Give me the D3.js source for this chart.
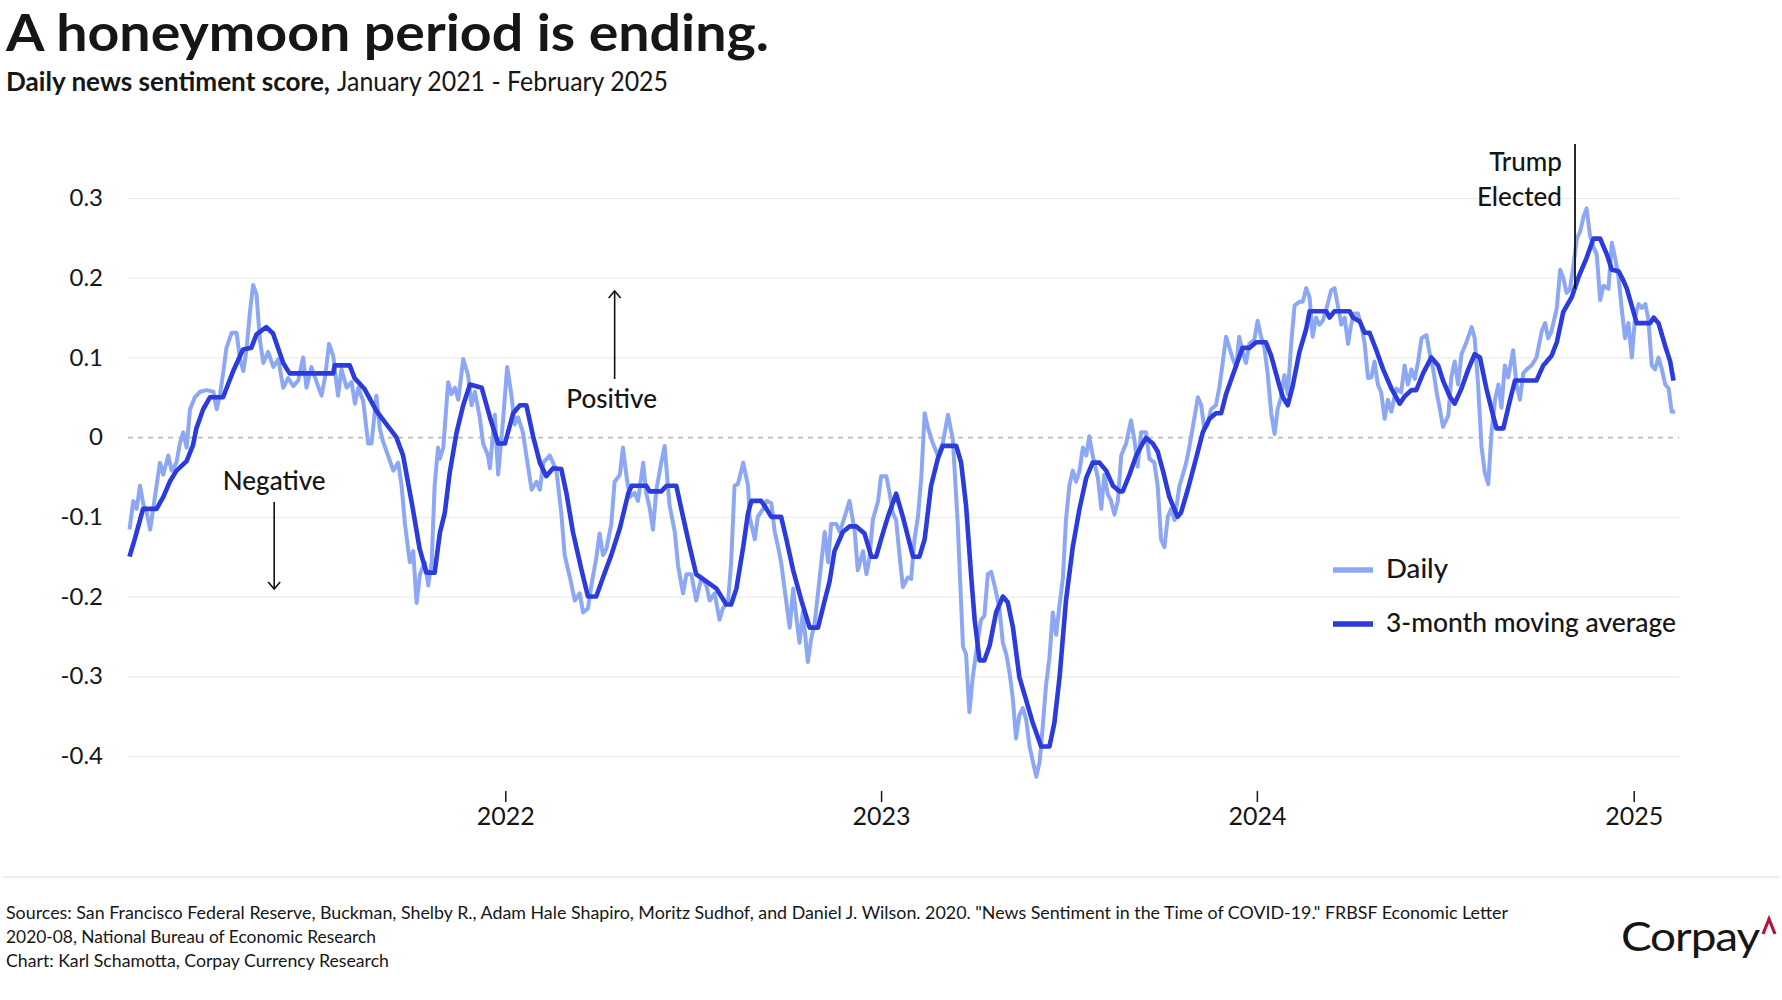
<!DOCTYPE html>
<html>
<head>
<meta charset="utf-8">
<script src="https://cdn.jsdelivr.net/npm/d3@7"></script>
<style>
  body { margin: 0; background: #fff; }
  text { font-family: Lato, "Noto Sans", sans-serif; fill: #161616; }
</style>
</head>
<body>
<div id="chart"></div>
<script>
// values; time as decimal year
const dailySeries = [
  [2021.000,-0.116],[2021.010,-0.08],[2021.019,-0.09],[2021.028,-0.061],[2021.037,-0.085],[2021.046,-0.095],
  [2021.055,-0.116],[2021.063,-0.09],[2021.072,-0.061],[2021.081,-0.032],[2021.090,-0.047],[2021.103,-0.023],
  [2021.112,-0.042],[2021.125,-0.032],[2021.134,-0.008],[2021.143,0.006],[2021.152,-0.013],[2021.161,0.035],
  [2021.174,0.05],[2021.188,0.057],[2021.205,0.059],[2021.223,0.057],[2021.232,0.035],[2021.241,0.054],
  [2021.250,0.083],[2021.258,0.112],[2021.272,0.131],[2021.285,0.131],[2021.294,0.098],[2021.303,0.083],
  [2021.312,0.112],[2021.320,0.155],[2021.329,0.191],[2021.338,0.179],[2021.347,0.122],[2021.356,0.093],
  [2021.369,0.107],[2021.383,0.088],[2021.396,0.098],[2021.409,0.062],[2021.422,0.074],[2021.436,0.064],
  [2021.449,0.071],[2021.462,0.1],[2021.471,0.062],[2021.484,0.088],[2021.498,0.069],[2021.511,0.052],
  [2021.520,0.074],[2021.531,0.117],[2021.542,0.102],[2021.555,0.052],[2021.564,0.085],[2021.578,0.062],
  [2021.591,0.069],[2021.600,0.042],[2021.609,0.062],[2021.622,0.045],[2021.635,-0.008],[2021.644,-0.008],
  [2021.657,0.052],[2021.666,0.011],[2021.675,-0.006],[2021.688,-0.023],[2021.702,-0.042],[2021.715,-0.032],
  [2021.724,-0.061],[2021.733,-0.109],[2021.746,-0.157],[2021.755,-0.143],[2021.764,-0.208],[2021.773,-0.172],
  [2021.786,-0.157],[2021.795,-0.186],[2021.804,-0.157],[2021.812,-0.061],[2021.821,-0.013],[2021.826,-0.027],
  [2021.835,-0.013],[2021.848,0.069],[2021.857,0.054],[2021.866,0.062],[2021.875,0.047],[2021.888,0.098],
  [2021.901,0.078],[2021.910,0.04],[2021.919,0.057],[2021.932,0.025],[2021.941,-0.008],[2021.954,-0.023],
  [2021.959,-0.039],[2021.972,0.028],[2021.981,-0.047],[2021.994,0.021],[2022.005,0.088],[2022.016,0.054],
  [2022.025,0.016],[2022.034,0.025],[2022.047,0.006],[2022.056,-0.023],[2022.070,-0.066],[2022.083,-0.056],
  [2022.092,-0.066],[2022.101,-0.032],[2022.118,-0.023],[2022.127,-0.032],[2022.136,-0.042],[2022.149,-0.095],
  [2022.158,-0.148],[2022.172,-0.176],[2022.185,-0.205],[2022.198,-0.196],[2022.207,-0.22],[2022.220,-0.215],
  [2022.229,-0.186],[2022.242,-0.152],[2022.251,-0.121],[2022.260,-0.148],[2022.269,-0.14],[2022.282,-0.109],
  [2022.291,-0.056],[2022.305,-0.047],[2022.313,-0.013],[2022.322,-0.047],[2022.331,-0.075],[2022.344,-0.07],
  [2022.353,-0.08],[2022.367,-0.032],[2022.375,-0.07],[2022.384,-0.088],[2022.393,-0.116],[2022.402,-0.066],
  [2022.415,-0.032],[2022.424,-0.011],[2022.437,-0.085],[2022.451,-0.119],[2022.460,-0.162],[2022.473,-0.196],
  [2022.482,-0.172],[2022.495,-0.172],[2022.508,-0.205],[2022.522,-0.176],[2022.535,-0.186],[2022.544,-0.205],
  [2022.557,-0.196],[2022.570,-0.229],[2022.579,-0.215],[2022.593,-0.205],[2022.601,-0.157],[2022.610,-0.061],
  [2022.619,-0.059],[2022.633,-0.032],[2022.646,-0.061],[2022.650,-0.1],[2022.664,-0.128],[2022.672,-0.1],
  [2022.686,-0.09],[2022.695,-0.08],[2022.708,-0.083],[2022.717,-0.119],[2022.726,-0.138],[2022.734,-0.157],
  [2022.743,-0.19],[2022.757,-0.239],[2022.766,-0.19],[2022.774,-0.224],[2022.783,-0.258],[2022.792,-0.219],
  [2022.805,-0.282],[2022.814,-0.253],[2022.823,-0.234],[2022.832,-0.196],[2022.841,-0.157],[2022.850,-0.119],
  [2022.859,-0.157],[2022.867,-0.109],[2022.881,-0.109],[2022.890,-0.119],[2022.903,-0.1],[2022.916,-0.08],
  [2022.930,-0.119],[2022.938,-0.167],[2022.952,-0.143],[2022.961,-0.172],[2022.969,-0.152],[2022.978,-0.104],
  [2022.992,-0.08],[2023.000,-0.049],[2023.014,-0.049],[2023.023,-0.071],[2023.031,-0.095],[2023.040,-0.104],
  [2023.049,-0.148],[2023.058,-0.188],[2023.071,-0.176],[2023.080,-0.178],[2023.089,-0.128],[2023.098,-0.1],
  [2023.107,-0.051],[2023.116,0.03],[2023.125,0.011],[2023.138,-0.008],[2023.151,-0.023],[2023.164,-0.008],
  [2023.178,0.028],[2023.191,-0.003],[2023.204,-0.109],[2023.218,-0.263],[2023.226,-0.272],[2023.235,-0.345],
  [2023.244,-0.301],[2023.258,-0.253],[2023.266,-0.229],[2023.275,-0.224],[2023.284,-0.172],[2023.293,-0.169],
  [2023.302,-0.186],[2023.315,-0.215],[2023.324,-0.258],[2023.333,-0.272],[2023.342,-0.296],[2023.351,-0.33],
  [2023.359,-0.378],[2023.368,-0.349],[2023.377,-0.34],[2023.386,-0.354],[2023.395,-0.388],[2023.404,-0.407],
  [2023.413,-0.426],[2023.422,-0.407],[2023.430,-0.364],[2023.439,-0.311],[2023.448,-0.277],[2023.457,-0.22],
  [2023.466,-0.248],[2023.475,-0.21],[2023.484,-0.176],[2023.492,-0.104],[2023.501,-0.061],[2023.510,-0.042],
  [2023.519,-0.056],[2023.528,-0.042],[2023.537,-0.013],[2023.546,-0.023],[2023.554,0.001],[2023.563,-0.023],
  [2023.577,-0.051],[2023.586,-0.09],[2023.594,-0.047],[2023.603,-0.071],[2023.612,-0.08],[2023.621,-0.097],
  [2023.630,-0.08],[2023.639,-0.023],[2023.652,-0.008],[2023.665,0.021],[2023.674,-0.003],[2023.683,-0.037],
  [2023.692,0.006],[2023.705,0.006],[2023.714,-0.027],[2023.727,-0.032],[2023.736,-0.061],[2023.745,-0.128],
  [2023.754,-0.138],[2023.763,-0.1],[2023.772,-0.09],[2023.781,-0.104],[2023.794,-0.061],[2023.803,-0.047],
  [2023.812,-0.032],[2023.820,-0.013],[2023.829,0.011],[2023.843,0.05],[2023.852,0.04],[2023.860,0.011],
  [2023.869,0.016],[2023.878,0.035],[2023.891,0.04],[2023.900,0.062],[2023.909,0.093],[2023.918,0.126],
  [2023.927,0.112],[2023.936,0.098],[2023.945,0.088],[2023.953,0.126],[2023.962,0.107],[2023.971,0.093],
  [2023.980,0.117],[2023.993,0.122],[2024.002,0.146],[2024.011,0.126],[2024.020,0.112],[2024.029,0.078],
  [2024.038,0.03],[2024.047,0.004],[2024.055,0.035],[2024.064,0.05],[2024.073,0.078],[2024.082,0.054],
  [2024.091,0.117],[2024.100,0.165],[2024.113,0.17],[2024.122,0.17],[2024.131,0.187],[2024.140,0.175],
  [2024.148,0.126],[2024.157,0.15],[2024.166,0.141],[2024.175,0.146],[2024.184,0.16],[2024.197,0.184],
  [2024.206,0.187],[2024.215,0.165],[2024.224,0.141],[2024.233,0.15],[2024.242,0.117],[2024.250,0.141],
  [2024.259,0.155],[2024.268,0.155],[2024.277,0.141],[2024.286,0.117],[2024.295,0.074],[2024.304,0.075],
  [2024.312,0.095],[2024.321,0.066],[2024.330,0.056],[2024.339,0.023],[2024.348,0.047],[2024.357,0.032],
  [2024.370,0.061],[2024.383,0.056],[2024.392,0.09],[2024.401,0.066],[2024.410,0.085],[2024.419,0.073],
  [2024.428,0.095],[2024.437,0.124],[2024.450,0.128],[2024.459,0.104],[2024.468,0.085],[2024.477,0.056],
  [2024.485,0.037],[2024.494,0.013],[2024.508,0.027],[2024.516,0.075],[2024.525,0.095],[2024.534,0.066],
  [2024.543,0.104],[2024.556,0.119],[2024.570,0.138],[2024.578,0.124],[2024.587,0.066],[2024.596,-0.011],
  [2024.605,-0.045],[2024.614,-0.059],[2024.623,0.008],[2024.632,0.047],[2024.641,0.066],[2024.649,0.037],
  [2024.658,0.09],[2024.667,0.075],[2024.680,0.109],[2024.689,0.066],[2024.698,0.047],[2024.707,0.08],
  [2024.716,0.085],[2024.729,0.09],[2024.742,0.1],[2024.756,0.133],[2024.765,0.143],[2024.773,0.124],
  [2024.782,0.133],[2024.796,0.162],[2024.805,0.21],[2024.813,0.2],[2024.822,0.181],[2024.831,0.186],
  [2024.840,0.215],[2024.849,0.249],[2024.858,0.258],[2024.867,0.277],[2024.875,0.287],[2024.884,0.253],
  [2024.893,0.239],[2024.902,0.229],[2024.911,0.172],[2024.920,0.19],[2024.933,0.186],[2024.942,0.244],
  [2024.951,0.224],[2024.960,0.2],[2024.969,0.157],[2024.977,0.124],[2024.986,0.143],[2024.995,0.1],
  [2025.004,0.152],[2025.013,0.167],[2025.022,0.162],[2025.031,0.167],[2025.039,0.148],[2025.048,0.09],
  [2025.057,0.085],[2025.066,0.1],[2025.075,0.085],[2025.084,0.066],[2025.093,0.061],[2025.101,0.032],
  [2025.110,0.032]
];

const averageSeries = [
  [2021.000,-0.15],[2021.014,-0.128],[2021.036,-0.09],[2021.072,-0.09],[2021.090,-0.075],[2021.107,-0.056],
  [2021.125,-0.042],[2021.152,-0.03],[2021.169,-0.01],[2021.178,0.011],[2021.196,0.035],[2021.214,0.05],
  [2021.249,0.05],[2021.276,0.083],[2021.302,0.11],[2021.324,0.112],[2021.338,0.129],[2021.364,0.138],
  [2021.382,0.13],[2021.409,0.093],[2021.426,0.08],[2021.542,0.08],[2021.546,0.09],[2021.586,0.09],
  [2021.599,0.074],[2021.626,0.06],[2021.657,0.033],[2021.684,0.016],[2021.710,0],[2021.728,-0.023],
  [2021.754,-0.09],[2021.772,-0.14],[2021.790,-0.17],[2021.812,-0.17],[2021.826,-0.12],[2021.839,-0.095],
  [2021.852,-0.045],[2021.870,0.005],[2021.888,0.04],[2021.906,0.066],[2021.937,0.062],[2021.959,0.025],
  [2021.981,-0.008],[2021.999,-0.008],[2022.021,0.03],[2022.039,0.04],[2022.056,0.04],[2022.074,0.001],
  [2022.092,-0.032],[2022.109,-0.049],[2022.127,-0.039],[2022.149,-0.04],[2022.163,-0.071],[2022.180,-0.119],
  [2022.203,-0.167],[2022.220,-0.2],[2022.242,-0.2],[2022.260,-0.176],[2022.282,-0.148],[2022.305,-0.114],
  [2022.327,-0.071],[2022.336,-0.061],[2022.375,-0.061],[2022.384,-0.068],[2022.415,-0.068],[2022.429,-0.061],
  [2022.455,-0.061],[2022.473,-0.1],[2022.491,-0.138],[2022.508,-0.172],[2022.535,-0.181],[2022.562,-0.19],
  [2022.588,-0.21],[2022.601,-0.21],[2022.615,-0.19],[2022.633,-0.138],[2022.646,-0.095],[2022.655,-0.08],
  [2022.681,-0.08],[2022.695,-0.09],[2022.708,-0.1],[2022.734,-0.1],[2022.748,-0.128],[2022.766,-0.167],
  [2022.788,-0.205],[2022.810,-0.239],[2022.832,-0.239],[2022.850,-0.205],[2022.863,-0.181],[2022.876,-0.143],
  [2022.890,-0.128],[2022.898,-0.119],[2022.916,-0.112],[2022.934,-0.112],[2022.956,-0.121],[2022.974,-0.15],
  [2022.987,-0.15],[2023.000,-0.128],[2023.018,-0.1],[2023.040,-0.071],[2023.058,-0.1],[2023.071,-0.124],
  [2023.085,-0.15],[2023.102,-0.15],[2023.116,-0.128],[2023.133,-0.061],[2023.151,-0.027],[2023.164,-0.011],
  [2023.200,-0.011],[2023.213,-0.032],[2023.226,-0.085],[2023.240,-0.176],[2023.249,-0.229],[2023.262,-0.28],
  [2023.275,-0.28],[2023.289,-0.261],[2023.306,-0.22],[2023.324,-0.2],[2023.337,-0.207],[2023.351,-0.239],
  [2023.368,-0.301],[2023.386,-0.33],[2023.404,-0.359],[2023.426,-0.388],[2023.448,-0.388],[2023.461,-0.359],
  [2023.475,-0.301],[2023.492,-0.205],[2023.510,-0.138],[2023.528,-0.09],[2023.546,-0.051],[2023.563,-0.032],
  [2023.581,-0.032],[2023.599,-0.042],[2023.617,-0.061],[2023.634,-0.068],[2023.643,-0.068],[2023.661,-0.047],
  [2023.679,-0.023],[2023.696,-0.008],[2023.705,-0.001],[2023.723,-0.008],[2023.736,-0.018],[2023.750,-0.042],
  [2023.767,-0.075],[2023.789,-0.1],[2023.798,-0.095],[2023.816,-0.066],[2023.838,-0.027],[2023.856,0.006],
  [2023.874,0.023],[2023.891,0.03],[2023.905,0.03],[2023.918,0.054],[2023.936,0.078],[2023.958,0.107],
  [2023.962,0.112],[2023.980,0.112],[2023.998,0.119],[2024.024,0.119],[2024.038,0.102],[2024.060,0.064],
  [2024.069,0.05],[2024.082,0.04],[2024.095,0.064],[2024.113,0.107],[2024.131,0.136],[2024.140,0.158],
  [2024.184,0.158],[2024.193,0.15],[2024.206,0.158],[2024.246,0.158],[2024.255,0.15],[2024.273,0.145],
  [2024.286,0.131],[2024.299,0.131],[2024.317,0.109],[2024.335,0.085],[2024.357,0.061],[2024.379,0.042],
  [2024.392,0.051],[2024.410,0.059],[2024.423,0.059],[2024.441,0.08],[2024.463,0.1],[2024.481,0.09],
  [2024.494,0.071],[2024.512,0.051],[2024.525,0.042],[2024.543,0.061],[2024.561,0.085],[2024.578,0.104],
  [2024.592,0.1],[2024.609,0.061],[2024.627,0.027],[2024.636,0.011],[2024.654,0.011],[2024.672,0.047],
  [2024.685,0.071],[2024.742,0.071],[2024.760,0.09],[2024.782,0.102],[2024.796,0.119],[2024.813,0.157],
  [2024.836,0.176],[2024.853,0.2],[2024.875,0.225],[2024.893,0.249],[2024.911,0.249],[2024.929,0.229],
  [2024.942,0.21],[2024.960,0.208],[2024.973,0.196],[2024.982,0.186],[2025.008,0.143],[2025.044,0.143],
  [2025.053,0.15],[2025.066,0.143],[2025.084,0.114],[2025.097,0.095],[2025.106,0.071]
];

const yTicks = [0.3, 0.2, 0.1, 0, -0.1, -0.2, -0.3, -0.4];
const yearTicks = [2022, 2023, 2024, 2025];
const legendItems = ["Daily", "3-month moving average"];
const sourceLines = [
  "Sources: San Francisco Federal Reserve, Buckman, Shelby R., Adam Hale Shapiro, Moritz Sudhof, and Daniel J. Wilson. 2020. \"News Sentiment in the Time of COVID-19.\" FRBSF Economic Letter",
  "2020-08, National Bureau of Economic Research",
  "Chart: Karl Schamotta, Corpay Currency Research"
];

const dailyColor = "#8ca7f4";
const avgColor = "#2b3bdc";

function toDate(t) {
  const yr = Math.floor(t);
  const a = new Date(yr, 0, 1), b = new Date(yr + 1, 0, 1);
  return new Date(+a + (t - yr) * (b - a));
}

const width = 1782, height = 1000;
const svg = d3.select("#chart").append("svg")
  .attr("width", width)
  .attr("height", height);

const x = d3.scaleTime()
  .domain([new Date(2021, 0, 1), new Date(2025, 1, 14)])
  .range([129.5, 1679]);
const y = d3.scaleLinear()
  .domain([-0.4, 0.3])
  .range([756, 198]);

function fit(sel, w) {
  sel.attr("textLength", w).attr("lengthAdjust", "spacingAndGlyphs");
}

// title + subtitle
svg.append("text").attr("x", 6).attr("y", 51)
  .style("font-size", "52px").style("font-weight", 700)
  .text("A honeymoon period is ending.").call(fit, 763);
svg.append("text").attr("x", 6).attr("y", 91)
  .style("font-size", "26px").style("font-weight", 700)
  .text("Daily news sentiment score,").call(fit, 324);
svg.append("text").attr("x", 337).attr("y", 91)
  .style("font-size", "26px").style("font-weight", 400)
  .text("January 2021 - February 2025").call(fit, 331);

// y gridlines + labels
const yAxis = svg.append("g")
  .attr("transform", "translate(128,0)")
  .call(d3.axisLeft(y)
    .tickValues(yTicks)
    .tickSize(-(1679 - 128))
    .tickPadding(25)
    .tickFormat(d => d === 0 ? "0" : d3.format(".1f")(d).replace("−", "-")));
yAxis.select(".domain").remove();
yAxis.selectAll(".tick line")
  .attr("stroke", d => d === 0 ? "#bdbdbd" : "#ececec")
  .attr("stroke-width", d => d === 0 ? 1.6 : 1.2)
  .attr("stroke-dasharray", d => d === 0 ? "5,5" : null);
yAxis.selectAll(".tick text")
  .style("font-size", "24px").style("font-family", "Lato, sans-serif")
  .attr("fill", "#161616");

// x axis
const xAxis = svg.append("g")
  .attr("transform", "translate(0,791)")
  .call(d3.axisBottom(x)
    .tickValues(yearTicks.map(yr => new Date(yr, 0, 1)))
    .tickSize(11)
    .tickPadding(5)
    .tickFormat(d3.timeFormat("%Y")));
xAxis.select(".domain").remove();
xAxis.selectAll(".tick line").attr("stroke", "#161616").attr("stroke-width", 1.5);
xAxis.selectAll(".tick text")
  .style("font-size", "25px").style("font-family", "Lato, sans-serif")
  .attr("fill", "#161616");

// lines
const line = d3.line()
  .x(d => x(toDate(d[0])))
  .y(d => y(d[1]));

svg.append("path")
  .datum(dailySeries)
  .attr("fill", "none")
  .attr("stroke", dailyColor)
  .attr("stroke-width", 4)
  .attr("stroke-linejoin", "round")
  .attr("d", line);

svg.append("path")
  .datum(averageSeries)
  .attr("fill", "none")
  .attr("stroke", avgColor)
  .attr("stroke-width", 4.6)
  .attr("stroke-linejoin", "round")
  .attr("d", line);

// annotations
const annoSize = "26px";
const negX = x(toDate(2021.385));
svg.append("text").attr("x", negX).attr("y", 490)
  .attr("text-anchor", "middle").style("font-size", annoSize).style("font-weight", 500)
  .text("Negative");
svg.append("line").attr("x1", negX).attr("x2", negX).attr("y1", 502).attr("y2", 589)
  .attr("stroke", "#111").attr("stroke-width", 1.6);
svg.append("path").attr("d", `M${negX - 6},${582} L${negX},${589} L${negX + 6},${582}`)
  .attr("fill", "none").attr("stroke", "#111").attr("stroke-width", 1.6);

const posX = x(toDate(2022.291));
svg.append("text").attr("x", posX - 3).attr("y", 408)
  .attr("text-anchor", "middle").style("font-size", annoSize).style("font-weight", 500)
  .text("Positive");
svg.append("line").attr("x1", posX).attr("x2", posX).attr("y1", 379).attr("y2", 291)
  .attr("stroke", "#111").attr("stroke-width", 1.6);
svg.append("path").attr("d", `M${posX - 6},${298} L${posX},${291} L${posX + 6},${298}`)
  .attr("fill", "none").attr("stroke", "#111").attr("stroke-width", 1.6);

const electX = x(new Date(2024, 10, 5));
svg.append("line").attr("x1", electX).attr("x2", electX)
  .attr("y1", 144).attr("y2", y(0.186))
  .attr("stroke", "#111").attr("stroke-width", 1.8);
svg.append("text").attr("x", electX - 13).attr("y", 171)
  .attr("text-anchor", "end").style("font-size", annoSize).style("font-weight", 500)
  .text("Trump");
svg.append("text").attr("x", electX - 13).attr("y", 206)
  .attr("text-anchor", "end").style("font-size", annoSize).style("font-weight", 500)
  .text("Elected");

// legend
const legendWidths = [62, 290];
const legend = svg.append("g").attr("transform", "translate(1333,570)");
legendItems.forEach((name, i) => {
  const g = legend.append("g").attr("transform", `translate(0,${i * 54})`);
  g.append("line").attr("x1", 0).attr("x2", 40)
    .attr("stroke", i === 0 ? dailyColor : avgColor).attr("stroke-width", 5.5);
  g.append("text").attr("x", 53).attr("y", 8)
    .style("font-size", "26.5px").style("font-weight", 500)
    .text(name).call(fit, legendWidths[i]);
});

// footer
svg.append("line").attr("x1", 3).attr("x2", 1779).attr("y1", 877).attr("y2", 877)
  .attr("stroke", "#dcdcdc").attr("stroke-width", 1.2);

const footWidths = [1502, 370, 383];
sourceLines.forEach((s, i) => {
  svg.append("text").attr("x", 6).attr("y", 919 + i * 24)
    .style("font-size", "17px").attr("fill", "#222")
    .text(s).call(fit, footWidths[i]);
});

svg.append("text").attr("x", 1621).attr("y", 951)
  .style("font-size", "41px").style("font-weight", 400).style("letter-spacing", "-1px")
  .text("Corpay").call(fit, 138);
svg.append("path").attr("d", "M1763,934 L1769,919 L1775,934")
  .attr("fill", "none").attr("stroke", "#b3163c").attr("stroke-width", 3.2);
</script>
</body>
</html>
